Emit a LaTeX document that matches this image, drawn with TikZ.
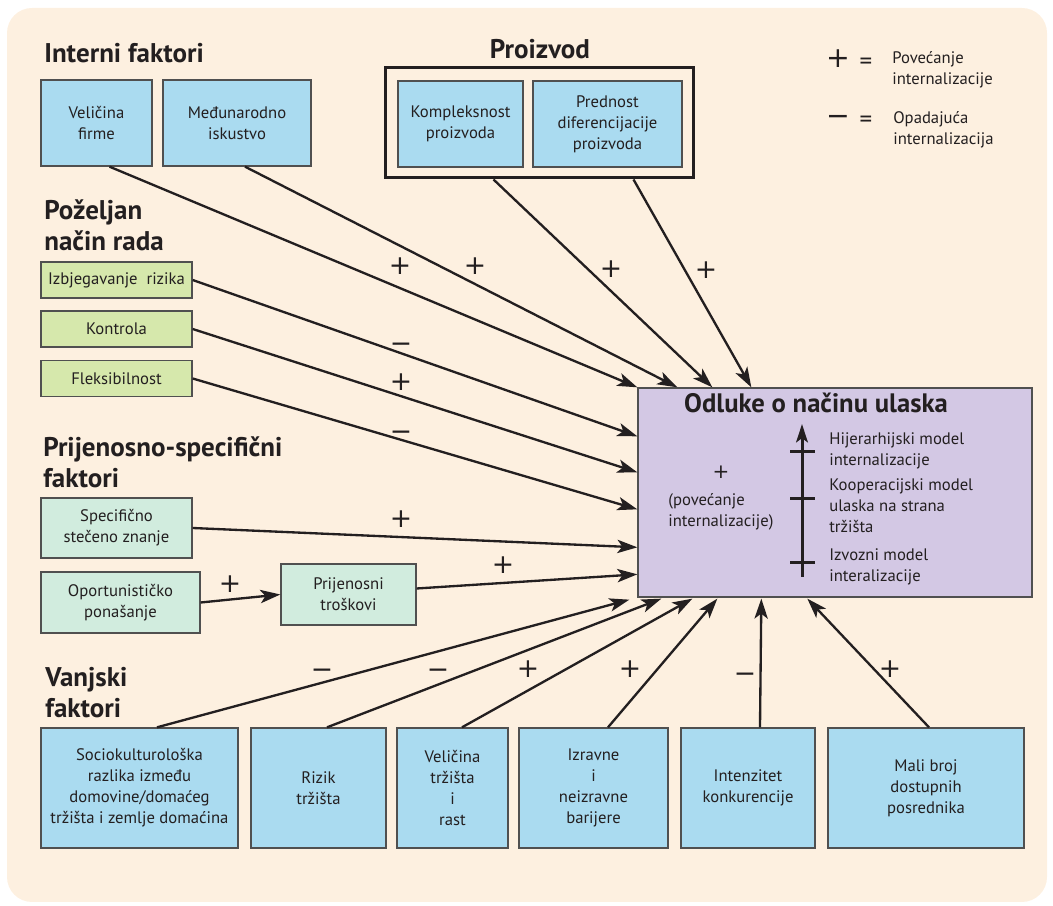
\documentclass[tikz,border=0pt]{standalone}
\usepackage{fontspec}
\setmainfont{PT Sans}
\newfontfamily\znakfont{DejaVu Sans}
\usetikzlibrary{arrows.meta,calc}
\definecolor{pozadina}{RGB}{253,240,224}
\definecolor{plava}{RGB}{170,219,240}
\definecolor{zelena}{RGB}{214,232,172}
\definecolor{menta}{RGB}{209,236,222}
\definecolor{ljubicasta}{RGB}{211,200,228}
\definecolor{tinta}{RGB}{35,31,32}
\definecolor{rub}{RGB}{80,80,80}
\begin{document}
\begin{tikzpicture}[x=0.6pt,y=-0.6pt,
    kutija/.style={draw=rub, line width=0.8pt, align=center, text=tinta, inner sep=1pt,
        font=\fontsize{10}{12.6}\selectfont},
    plavo/.style={kutija, fill=plava},
    zeleno/.style={kutija, fill=zelena, minimum width=90.6pt, minimum height=21.6pt},
    mentol/.style={kutija, fill=menta},
    naslov/.style={anchor=base west, align=left, inner sep=0pt, text=tinta,
        font=\fontsize{16.2}{18.6}\selectfont\bfseries},
    opis/.style={anchor=base west, align=left, inner sep=0pt, text=tinta,
        font=\fontsize{10}{12.6}\selectfont},
    znak/.style={inner sep=0pt, text=tinta, text height=0.62em, text depth=0pt,
        font=\znakfont\fontsize{16}{16}\selectfont},
    veza/.style={line width=1.4pt, draw=tinta, -{Stealth[length=12pt,width=8pt,inset=3pt]}}]
    % Pozadina
    \fill[pozadina, rounded corners=15pt] (7,8) rectangle (1047,902);
    \useasboundingbox (0,0) rectangle (1053,906);
    % Interni faktori
    \node[naslov] (interni) at (44,63) {Interni faktori};
    \node[plavo, minimum width=66.6pt, minimum height=51.6pt] (firma) at (96.5,123) {Veličina\\firme};
    \node[plavo, minimum width=88.8pt, minimum height=51.6pt] (iskustvo) at (237,123) {Međunarodno\\iskustvo};
    % Proizvod
    \node[naslov, anchor=base] (proiz) at (540,59) {Proizvod};
    \node[draw=tinta, line width=1.8pt, minimum width=184.8pt, minimum height=66pt] (proizvod) at (539,123) {};
    \node[plavo, minimum width=75pt, minimum height=51.6pt] (kompleks) at (460.5,124) {Kompleksnost\\proizvoda};
    \node[plavo, minimum width=89.4pt, minimum height=51.6pt] (prednost) at (607.5,124) {Prednost\\diferencijacije\\proizvoda};
    % Legenda
    \node[znak, font=\znakfont\fontsize{17}{17}\selectfont] (lplus) at (838,62) {+};
    \node[znak, font=\fontsize{15}{15}\selectfont] (ljed1) at (866,64) {=};
    \node[opis] (lpov) at (892,85) {Povećanje\\internalizacije};
    \node[znak, font=\znakfont\fontsize{17}{17}\selectfont] (lminus) at (838,120) {−};
    \node[znak, font=\fontsize{15}{15}\selectfont] (ljed2) at (866,122) {=};
    \node[opis] (lopad) at (893,145) {Opadajuća\\internalizacija};
    % Poželjan način rada
    \node[naslov] (nacin) at (44,251) {Poželjan\\način rada};
    \node[zeleno] (rizik) at (116.5,280) {Izbjegavanje\ \ rizika};
    \node[zeleno] (kontrola) at (116.5,329) {Kontrola};
    \node[zeleno] (fleks) at (116.5,378.5) {Fleksibilnost};
    % Prijenosno-specifični faktori
    \node[naslov] (prijenos) at (43,488) {Prijenosno-specifični\\faktori};
    \node[mentol, minimum width=90.6pt, minimum height=36pt] (znanje) at (116.5,528) {Specifično\\stečeno znanje};
    \node[mentol, minimum width=95.4pt, minimum height=36.6pt] (oport) at (120.5,602.5) {Oportunističko\\ponašanje};
    \node[mentol, minimum width=81pt, minimum height=36.6pt] (troskovi) at (348.5,594.5) {Prijenosni\\troškovi};
    % Odluke o načinu ulaska
    \node[kutija, fill=ljubicasta, minimum width=236.4pt, minimum height=125.4pt] (odluke) at (835,492.5) {};
    \node[inner sep=0pt, text=tinta, anchor=base, font=\fontsize{16}{18}\selectfont\bfseries] (odlnaslov) at (816,413) {Odluke o načinu ulaska};
    \node[znak, font=\znakfont\fontsize{12}{12}\selectfont] (plus) at (721,473) {+};
    \node[opis] (povecanje) at (668,527) {(povećanje\\internalizacije)};
    \node[opis] (hijer) at (829,466) {Hijerarhijski model\\internalizacije};
    \node[opis] (koop) at (829,533) {Kooperacijski model\\ulaska na strana\\tržišta};
    \node[opis] (izvoz) at (829,582) {Izvozni model\\interalizacije};
    \draw[line width=1.8pt, tinta, -{Stealth[length=11pt,width=7pt,inset=2.5pt]}] (802,577) -- (802,424);
    \foreach \y in {452,499,563} \draw[line width=1.8pt, tinta] (790,\y) -- (815,\y);
    % Vanjski faktori
    \node[naslov] (vanjski) at (45,718) {Vanjski\\faktori};
    \node[plavo, minimum width=118.2pt, minimum height=72pt] (socio) at (139.5,788) {Sociokulturološka\\razlika između\\domovine/domaćeg\\tržišta i zemlje domaćina};
    \node[plavo, minimum width=81pt, minimum height=72pt] (riziktr) at (318.5,788) {Rizik\\tržišta};
    \node[plavo, minimum width=66.6pt, minimum height=72pt] (velicina) at (452.5,788) {Veličina\\tržišta\\i\\rast};
    \node[plavo, minimum width=89.4pt, minimum height=72pt] (barijere) at (593.5,788) {Izravne\\i\\neizravne\\barijere};
    \node[plavo, minimum width=80.4pt, minimum height=72pt] (konkur) at (748,788) {Intenzitet\\konkurencije};
    \node[plavo, minimum width=117.6pt, minimum height=72pt] (posrednik) at (926,788) {Mali broj\\dostupnih\\posrednika};
    % Točke na rubu odluke
    \coordinate (g1) at (odluke.north west);
    \coordinate (g2) at ($(odluke.north west)+(40,0)$);
    \coordinate (g3) at ($(odluke.north west)+(75,0)$);
    \coordinate (g4) at ($(odluke.north west)+(114,0)$);
    \coordinate (l1) at ($(odluke.north west)+(0,49)$);
    \coordinate (l2) at ($(odluke.north west)+(0,85)$);
    \coordinate (l3) at ($(odluke.north west)+(0,122)$);
    \coordinate (l4) at ($(odluke.north west)+(0,160)$);
    \coordinate (l5) at ($(odluke.north west)+(0,187)$);
    \coordinate (d1) at ($(odluke.south west)+(-8,2)$);
    \coordinate (d2) at ($(odluke.south west)+(24,1)$);
    \coordinate (d3) at ($(odluke.south west)+(55,1)$);
    \coordinate (d4) at ($(odluke.south west)+(80,1)$);
    \coordinate (d5) at ($(odluke.south west)+(124,1)$);
    \coordinate (d6) at ($(odluke.south west)+(170,1)$);
    % Veze
    \draw[veza] ($(firma.south)+(13,0)$) -- (g1);
    \draw[veza] ($(iskustvo.south)+(8,0)$) -- (g2);
    \draw[veza] ($(proizvod.south west)+(110,0)$) -- (g3);
    \draw[veza] ($(proizvod.south west)+(250,0)$) -- (g4);
    \draw[veza] (rizik.east) -- (l1);
    \draw[veza] (kontrola.east) -- (l2);
    \draw[veza] (fleks.east) -- (l3);
    \draw[veza] (znanje.east) -- (l4);
    \draw[veza] ($(troskovi.east)+(0,-6)$) -- (l5);
    \draw[veza] (oport.east) -- (troskovi.west);
    \draw[veza] ($(socio.north)+(17.5,0)$) -- (d1);
    \draw[veza] ($(riziktr.north)+(8.5,0)$) -- (d2);
    \draw[veza] ($(velicina.north)+(9.5,0)$) -- (d3);
    \draw[veza] ($(barijere.north)+(14.5,0)$) -- (d4);
    \draw[veza] ($(konkur.north)+(12,0)$) -- (d5);
    \draw[veza] ($(posrednik.north)+(3,0)$) -- (d6);
    % Znakovi
    \foreach \x/\y/\s [count=\i] in {400/269/+, 475/269/+, 611/272/+, 706/273/+, 401/347/−, 401/385/+,
        401/435/−, 401/522/+, 503/568/+, 230/587/+, 322/673/−, 438/673/−, 528/672/+, 630/672/+,
        745/677/−, 890/672/+}
        \node[znak] (znak\i) at (\x,\y) {\s};
\end{tikzpicture}
\end{document}
